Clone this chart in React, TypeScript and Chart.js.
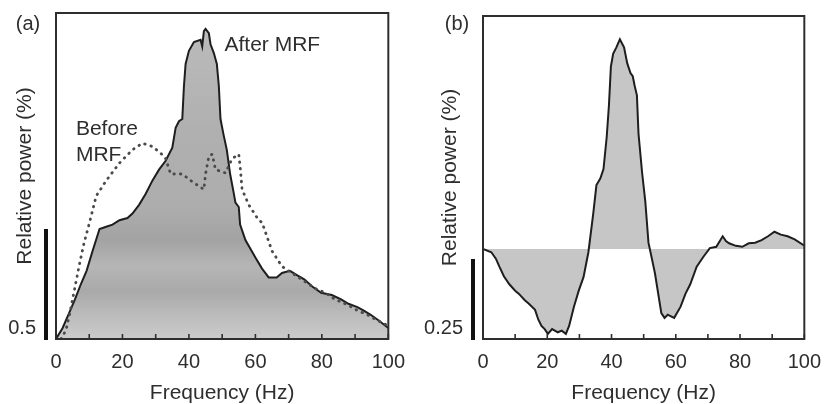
import { useEffect, useRef } from "react";
import { Chart, registerables } from "chart.js";

Chart.register(...registerables);

// ---------- data ----------
// Panel (a): relative power spectrum after MRF (solid, filled)
const FREQ_AFTER = [0, 2, 4, 5.7, 7.5, 9.2, 11, 13.1, 15.1, 17, 19.1, 21.5, 23, 25, 27, 29, 31, 33, 35, 36, 37, 38, 38.5, 39, 40, 41.5, 43.5, 44, 44.5, 45, 46, 46.5, 47.5, 48.4, 49, 49.5, 50.4, 51.4, 52.4, 53.4, 54, 55, 55.4, 57, 60, 62, 64, 66.4, 68, 70.4, 72.5, 74.8, 77, 79.8, 83, 85.8, 88, 90.7, 92.5, 94.7, 97, 100];
const POWER_AFTER = [0, 0.05, 0.12, 0.18, 0.25, 0.31, 0.4, 0.5, 0.51, 0.52, 0.54, 0.55, 0.57, 0.61, 0.66, 0.72, 0.77, 0.81, 0.87, 0.96, 0.99, 1.0, 1.15, 1.25, 1.31, 1.35, 1.36, 1.33, 1.4, 1.41, 1.39, 1.34, 1.3, 1.25, 1.15, 1.0, 0.93, 0.86, 0.75, 0.67, 0.62, 0.6, 0.52, 0.45, 0.37, 0.32, 0.28, 0.28, 0.3, 0.31, 0.29, 0.27, 0.24, 0.21, 0.2, 0.18, 0.16, 0.145, 0.13, 0.11, 0.085, 0.05];

// Panel (a): relative power spectrum before MRF (dotted)
const FREQ_BEFORE = [1.5, 3, 4.2, 5.5, 7.2, 8.5, 10.1, 12.1, 15.1, 19.1, 23, 26, 29, 31.5, 33, 34.5, 36, 38, 41, 44.5, 45, 46, 47, 48, 51, 53, 55, 55.5, 56, 58, 61, 62, 65, 68, 70, 72, 75, 78, 81, 84, 87.8, 90.7, 93.7, 96, 98.7, 100];
const POWER_BEFORE = [0, 0.04, 0.12, 0.22, 0.35, 0.44, 0.53, 0.65, 0.72, 0.8, 0.86, 0.89, 0.875, 0.845, 0.82, 0.75, 0.75, 0.75, 0.715, 0.68, 0.75, 0.83, 0.84, 0.77, 0.755, 0.82, 0.84, 0.77, 0.68, 0.61, 0.54, 0.53, 0.4, 0.33, 0.31, 0.29, 0.26, 0.23, 0.21, 0.18, 0.155, 0.13, 0.11, 0.09, 0.07, 0.06];

// Panel (b): change in relative power (after - before)
const FREQ_DIFF = [0, 2.6, 4, 5.1, 6.5, 8.2, 10, 11.2, 13, 14.2, 16.2, 17.2, 18.2, 19.2, 20.2, 21.5, 23.3, 24.5, 25.8, 26.8, 28.3, 29.8, 31.3, 32.8, 34.3, 35.3, 36.5, 37.5, 38.5, 39.2, 39.8, 40.5, 41.5, 42.6, 43.9, 44.9, 45.9, 46.6, 47.2, 47.9, 48.4, 49.5, 50.5, 51.5, 53.5, 55.5, 56.5, 57.5, 58.5, 59.5, 61.5, 63, 64.5, 66.5, 68.6, 70.6, 72.6, 74.6, 75.6, 76.6, 78.7, 80.7, 82.7, 84.7, 86.7, 88.7, 90.7, 92.7, 94.8, 97, 99.8, 100];
const POWER_DIFF = [0, -0.01, -0.03, -0.055, -0.085, -0.11, -0.13, -0.14, -0.16, -0.17, -0.19, -0.22, -0.24, -0.25, -0.265, -0.25, -0.26, -0.255, -0.265, -0.24, -0.18, -0.13, -0.087, -0.01, 0.11, 0.2, 0.22, 0.25, 0.35, 0.45, 0.57, 0.61, 0.63, 0.655, 0.63, 0.58, 0.55, 0.54, 0.51, 0.48, 0.36, 0.24, 0.15, 0.02, -0.075, -0.2, -0.215, -0.205, -0.21, -0.215, -0.18, -0.14, -0.11, -0.055, -0.024, 0.003, 0.007, 0.04, 0.025, 0.018, 0.01, 0.007, 0.018, 0.02, 0.028, 0.04, 0.054, 0.045, 0.04, 0.03, 0.012, 0.01];

// axes
const FREQ_MIN = 0;
const FREQ_MAX = 100;
const FREQ_STEP = 10;
const FREQ_LABEL_EVERY = 20;
const Y_MIN_A = 0;
const Y_MAX_A = 1.482;
const Y_MIN_B = -0.281;
const Y_MAX_B = 0.728;

// scale bars (% relative power)
const SCALE_BAR_A = 0.5;
const SCALE_BAR_B = 0.25;

// texts
const X_TITLE = "Frequency (Hz)";
const Y_TITLE = "Relative power (%)";
const PANEL_A = "(a)";
const PANEL_B = "(b)";
const NOTES_A = [
  { text: "After MRF", x: 50.7, y: 1.31 },
  { text: "Before", x: 6.0, y: 0.927 },
  { text: "MRF", x: 6.0, y: 0.81 },
];

// ---------- styling ----------
const FONT = "'Liberation Sans', Arial, Helvetica, sans-serif";
const INK = "#2e2e2e";

const W = 416;
const H = 404;

function decorPlugin(opts: {
  panel: string;
  panelDx: number;
  panelDy: number;
  bar: number;
  notes: { text: string; x: number; y: number }[];
}) {
  return {
    id: "panelDecor",
    afterDraw(chart: any) {
      const { ctx, chartArea: a, scales } = chart;
      const xs = scales.x;
      const ys = scales.y;
      ctx.save();
      // frame
      ctx.strokeStyle = INK;
      ctx.lineWidth = 2;
      ctx.strokeRect(a.left, a.top, a.right - a.left, a.bottom - a.top);
      // inward tick marks
      ctx.lineWidth = 1.6;
      for (const t of xs.ticks) {
        const px = xs.getPixelForValue(t.value);
        ctx.beginPath();
        ctx.moveTo(px, a.bottom);
        ctx.lineTo(px, a.bottom - 5);
        ctx.stroke();
      }
      // scale bar
      const y0 = ys.getPixelForValue(ys.min);
      const y1 = ys.getPixelForValue(ys.min + opts.bar);
      ctx.strokeStyle = "#111";
      ctx.lineWidth = 4;
      ctx.beginPath();
      ctx.moveTo(a.left - 10, y0 + 1);
      ctx.lineTo(a.left - 10, y1);
      ctx.stroke();
      ctx.fillStyle = INK;
      ctx.font = `20px ${FONT}`;
      ctx.textAlign = "right";
      ctx.textBaseline = "middle";
      ctx.fillText(String(opts.bar), a.left - 20, y0 - 11);
      // panel label
      ctx.textAlign = "center";
      ctx.fillText(opts.panel, a.left + opts.panelDx, a.top + opts.panelDy);
      // notes
      ctx.font = `21px ${FONT}`;
      ctx.textAlign = "left";
      ctx.textBaseline = "alphabetic";
      for (const n of opts.notes) {
        ctx.fillText(n.text, xs.getPixelForValue(n.x), ys.getPixelForValue(n.y));
      }
      ctx.restore();
    },
  };
}

function xScale(height: number) {
  return {
    type: "linear" as const,
    min: FREQ_MIN,
    max: FREQ_MAX,
    afterFit: (s: any) => {
      s.height = height;
    },
    grid: { display: false, drawTicks: false },
    border: { display: false },
    ticks: {
      stepSize: FREQ_STEP,
      color: INK,
      padding: 11,
      font: { size: 20, family: FONT },
      maxRotation: 0,
      autoSkip: false,
      callback: (v: any) => (Number(v) % FREQ_LABEL_EVERY === 0 ? String(v) : ""),
    },
    title: {
      display: true,
      text: X_TITLE,
      color: INK,
      font: { size: 21, family: FONT, lineHeight: 1 },
      padding: { top: 0, bottom: 0 },
    },
  };
}

function yScale(min: number, max: number, width: number, titlePad: number) {
  return {
    type: "linear" as const,
    min,
    max,
    afterFit: (s: any) => {
      s.width = width;
    },
    grid: { display: false, drawTicks: false },
    border: { display: false },
    ticks: { display: false },
    title: {
      display: true,
      text: Y_TITLE,
      color: INK,
      font: { size: 21, family: FONT, lineHeight: 1.2 },
      padding: { top: titlePad, bottom: 0 },
    },
  };
}

const pts = (xs: number[], ys: number[]) => xs.map((x, i) => ({ x, y: ys[i] }));

export default function App() {
  const refA = useRef<HTMLCanvasElement | null>(null);
  const refB = useRef<HTMLCanvasElement | null>(null);

  useEffect(() => {
    if (!refA.current || !refB.current) return;

    const gradA = (c: any) => {
      const chart = c.chart;
      const a = chart.chartArea;
      if (!a) return "#b0b0b0";
      const ys = chart.scales.y;
      const g = chart.ctx.createLinearGradient(0, a.top, 0, a.bottom);
      const f = (v: number) => Math.min(1, Math.max(0, (ys.getPixelForValue(v) - a.top) / (a.bottom - a.top)));
      g.addColorStop(f(1.45), "#bcbcbc");
      g.addColorStop(f(0.95), "#b0b0b0");
      g.addColorStop(f(0.6), "#adadad");
      g.addColorStop(f(0.45), "#a3a3a3");
      g.addColorStop(f(0.33), "#b6b6b6");
      g.addColorStop(f(0.22), "#a9a9a9");
      g.addColorStop(f(0.1), "#bdbdbd");
      g.addColorStop(f(0), "#cbcbcb");
      return g;
    };

    const chartA = new Chart(refA.current, {
      type: "line",
      data: {
        datasets: [
          {
            label: "Before MRF",
            data: pts(FREQ_BEFORE, POWER_BEFORE),
            borderColor: "#4a4a4a",
            borderWidth: 2.8,
            borderDash: [0.5, 6],
            borderCapStyle: "round",
            pointRadius: 0,
            fill: false,
            tension: 0,
          },
          {
            label: "After MRF",
            data: pts(FREQ_AFTER, POWER_AFTER),
            borderColor: "#1e1e1e",
            borderWidth: 2,
            pointRadius: 0,
            fill: "origin",
            backgroundColor: gradA,
            tension: 0,
          },
        ],
      },
      options: {
        animation: false,
        responsive: false,
        events: [],
        layout: { padding: { left: 0, top: 13, right: W - 392, bottom: 0 } },
        plugins: { legend: { display: false }, tooltip: { enabled: false } },
        scales: {
          x: xScale(H - 339),
          y: yScale(Y_MIN_A, Y_MAX_A, 56, 13),
        },
      },
      plugins: [decorPlugin({ panel: PANEL_A, panelDx: -28, panelDy: 11, bar: SCALE_BAR_A, notes: NOTES_A })],
    } as any);

    const chartB = new Chart(refB.current, {
      type: "line",
      data: {
        datasets: [
          {
            label: "Change",
            data: pts(FREQ_DIFF, POWER_DIFF),
            borderColor: "#1e1e1e",
            borderWidth: 2,
            pointRadius: 0,
            fill: "origin",
            backgroundColor: "#c6c6c6",
            tension: 0,
          },
        ],
      },
      options: {
        animation: false,
        responsive: false,
        events: [],
        layout: { padding: { left: 0, top: 16, right: W - 398, bottom: 0 } },
        plugins: { legend: { display: false }, tooltip: { enabled: false } },
        scales: {
          x: xScale(H - 339),
          y: yScale(Y_MIN_B, Y_MAX_B, 67, 22),
        },
      },
      plugins: [decorPlugin({ panel: PANEL_B, panelDx: -26, panelDy: 8, bar: SCALE_BAR_B, notes: [] })],
    } as any);

    return () => {
      chartA.destroy();
      chartB.destroy();
    };
  }, []);

  return (
    <div style={{ position: "absolute", left: 0, top: 0, width: 832, height: 404, background: "#ffffff" }}>
      <canvas ref={refA} width={W} height={H} style={{ position: "absolute", left: 0, top: 0, width: W, height: H }} />
      <canvas ref={refB} width={W} height={H} style={{ position: "absolute", left: W, top: 0, width: W, height: H }} />
    </div>
  );
}
